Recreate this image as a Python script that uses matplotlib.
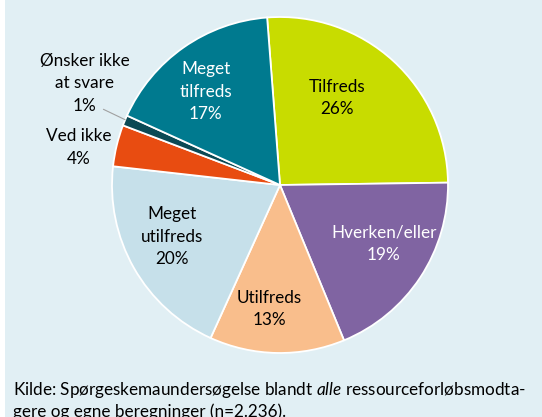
import numpy as np
import matplotlib
matplotlib.use("Agg")
import matplotlib.pyplot as plt

plt.rcParams['font.family'] = ['Lato', 'DejaVu Sans']
plt.rcParams['mathtext.fontset'] = 'custom'
plt.rcParams['mathtext.it'] = 'Lato:italic'
plt.rcParams['mathtext.rm'] = 'Lato'

# data (clockwise from top)
labels = ["Tilfreds", "Hverken/eller", "Utilfreds", "Meget\nutilfreds",
          "Ved ikke", "Ønsker ikke\nat svare", "Meget\ntilfreds"]
values = [26, 19, 13, 20, 4, 1, 17]
colors = ["#c8dc00", "#8064a2", "#f9be8c", "#c6e0ea",
          "#e84c11", "#0b4a55", "#007a8f"]
text_colors = ["black", "white", "black", "black", "black", "black", "white"]

# label placement: radius (pie units) and angle nudge (deg) from slice middle
lab_r = [0.62, 0.71, 0.74, 0.71, 1.22, 1.31, 0.71]
lab_da = [9, 4, -4, -4, 3, -5, 3.5]

W, H = 542, 417
cx, cy, R = 280, 185, 168
fig = plt.figure(figsize=(W / 100, H / 100), dpi=100)
fig.patch.set_facecolor("white")
ax = fig.add_axes([0, 0, 1, 1])

# background panel (white strip at left)
bg = plt.Rectangle((5 / W, 0), 1, 1, transform=fig.transFigure,
                   facecolor="#e1eff4", edgecolor="none", zorder=-10, clip_on=False)
ax.add_patch(bg)

start = 94.4
wedges, _ = ax.pie(values, colors=colors, startangle=start, counterclock=False,
                   radius=1.0, wedgeprops=dict(edgecolor="white", linewidth=1.3))

for w, lab, v, tc, r, da in zip(wedges, labels, values, text_colors, lab_r, lab_da):
    mid = np.deg2rad((w.theta1 + w.theta2) / 2 + da)
    x, y = r * np.cos(mid), r * np.sin(mid)
    ax.text(x, y, f"{lab}\n{v}%", ha="center", va="center", color=tc,
            fontsize=12.3, linespacing=1.5)

# leader line for the 1% slice
w1 = wedges[5]
m = np.deg2rad((w1.theta1 + w1.theta2) / 2)
ax.plot([1.0 * np.cos(m), -1.05], [1.0 * np.sin(m) + 0.005, 0.45],
        color="#a0a0a0", lw=0.8)

ax.set_xlim(-cx / R, (W - cx) / R)
ax.set_ylim(-(H - cy) / R, cy / R)
ax.set_aspect("equal")
ax.axis("off")

fig.text(13 / W, 1 - 390 / H,
         "Kilde: Spørgeskemaundersøgelse blandt $\\it{alle}$ ressourceforløbsmodta-",
         fontsize=12.3, va="center", ha="left")
fig.text(13 / W, 1 - 412 / H,
         "gere og egne beregninger (n=2.236).",
         fontsize=12.3, va="center", ha="left")

fig.savefig("out.png", dpi=100, facecolor=fig.get_facecolor())
